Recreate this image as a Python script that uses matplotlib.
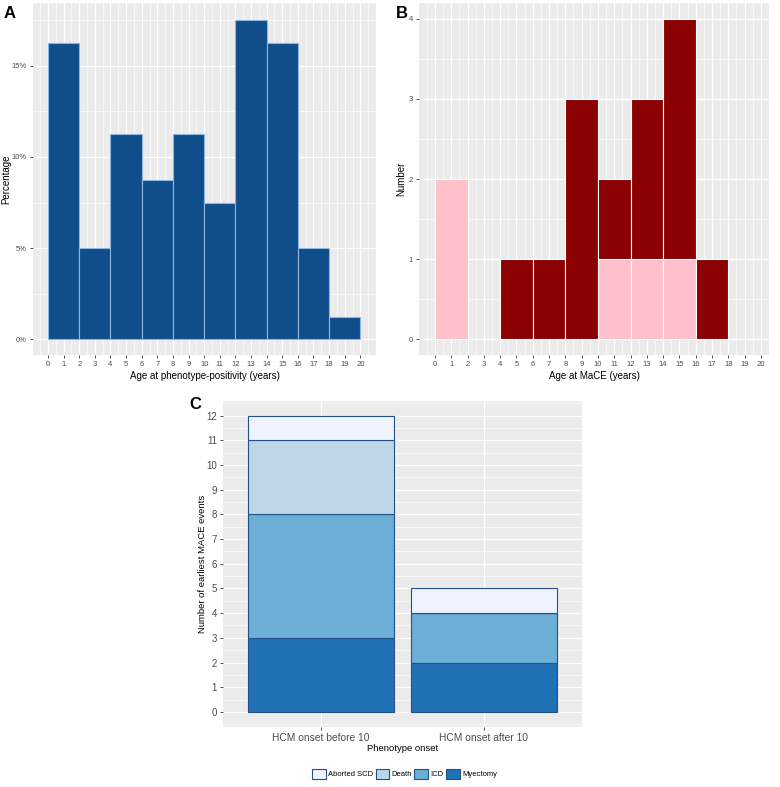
import numpy as np
import matplotlib
matplotlib.use("Agg")
import matplotlib.pyplot as plt
import matplotlib.patches as mpatches
from matplotlib.ticker import MultipleLocator, FuncFormatter

plt.rcParams.update({
    "font.family": ["Liberation Sans", "DejaVu Sans"],
    "axes.edgecolor": "none",
})

# ── Data ──────────────────────────────────────────────────────────────────────
bin_left = [0, 2, 4, 6, 8, 10, 12, 14, 16, 18]
age_ticks = list(range(0, 21))
pct_onset = [16.25, 5, 11.25, 8.75, 11.25, 7.5, 17.5, 16.25, 5, 1.25]

mace_pink = [2, 0, 0, 0, 0, 1, 1, 1, 0, 0]
mace_red = [0, 0, 1, 1, 3, 1, 2, 3, 1, 0]

groups = ["HCM onset before 10", "HCM onset after 10"]
event_types = ["Myectomy", "ICD", "Death", "Aborted SCD"]
event_counts = {
    "Myectomy": [3, 2],
    "ICD": [5, 2],
    "Death": [3, 0],
    "Aborted SCD": [1, 1],
}
event_colors = {
    "Aborted SCD": "#EFF3FF",
    "Death": "#BDD7E7",
    "ICD": "#6BAED6",
    "Myectomy": "#2171B5",
}

BG = "#EBEBEB"
TICK_COL = "#4D4D4D"


def gg_style(ax, tick_size):
    ax.set_facecolor(BG)
    ax.set_axisbelow(True)
    ax.grid(which="major", color="white", linewidth=0.9)
    ax.grid(which="minor", color="white", linewidth=0.45)
    for s in ax.spines.values():
        s.set_visible(False)
    ax.tick_params(which="major", length=2.5, width=0.6, color="#333333",
                   labelsize=tick_size, labelcolor=TICK_COL, pad=2)
    ax.tick_params(which="minor", length=0)


fig = plt.figure(figsize=(7.8, 7.87), dpi=100)

# ── Panel A ───────────────────────────────────────────────────────────────────
axA = fig.add_axes([0.0423, 0.5489, 0.4397, 0.4473])
gg_style(axA, 5.5)
axA.bar(bin_left, pct_onset, width=2, align="edge", color="#104E8B",
        edgecolor="#8FB6E0", linewidth=0.8, zorder=2)
axA.set_xlim(-0.96, 21.0)
axA.set_ylim(-0.86, 18.44)
axA.set_xticks(age_ticks)
axA.xaxis.set_minor_locator(MultipleLocator(0.5))
axA.yaxis.set_major_locator(MultipleLocator(5))
axA.yaxis.set_minor_locator(MultipleLocator(2.5))
axA.yaxis.set_major_formatter(FuncFormatter(lambda v, p: f"{v:.0f}%"))
axA.set_xlabel("Age at phenotype-positivity (years)", fontsize=7, labelpad=2)
axA.set_ylabel("Percentage", fontsize=7)
axA.yaxis.set_label_coords(-0.064, 0.5)
fig.text(0.004, 0.992, "A", fontsize=12, fontweight="bold", va="top")

# ── Panel B ───────────────────────────────────────────────────────────────────
axB = fig.add_axes([0.5372, 0.5489, 0.4487, 0.4473])
gg_style(axB, 5.5)
axB.bar(bin_left, mace_pink, width=2, align="edge", color="#FFC0CB",
        edgecolor="white", linewidth=0.8, zorder=2)
axB.bar(bin_left, mace_red, bottom=mace_pink, width=2, align="edge",
        color="#8B0000", edgecolor="white", linewidth=0.8, zorder=2)
axB.set_xlim(-0.98, 20.5)
axB.set_ylim(-0.2, 4.2)
axB.set_xticks(age_ticks)
axB.xaxis.set_minor_locator(MultipleLocator(0.5))
axB.yaxis.set_major_locator(MultipleLocator(1))
axB.yaxis.set_minor_locator(MultipleLocator(0.5))
axB.set_xlabel("Age at MaCE (years)", fontsize=7, labelpad=2)
axB.set_ylabel("Number", fontsize=7)
axB.yaxis.set_label_coords(-0.037, 0.5)
fig.text(0.508, 0.992, "B", fontsize=12, fontweight="bold", va="top")

# ── Panel C ───────────────────────────────────────────────────────────────────
axC = fig.add_axes([0.2863, 0.0766, 0.4595, 0.4142])
gg_style(axC, 7)
xpos = np.arange(1, len(groups) + 1)
bottom = np.zeros(len(groups))
for ev in event_types:
    vals = np.array(event_counts[ev], dtype=float)
    axC.bar(xpos, vals, bottom=bottom, width=0.9, color=event_colors[ev],
            edgecolor="#24508A", linewidth=0.8, zorder=2)
    bottom += vals
axC.set_xlim(0.4, 2.6)
axC.set_ylim(-0.6, 12.6)
axC.set_xticks(xpos)
axC.set_xticklabels(groups)
axC.tick_params(axis="x", labelsize=7.4)
axC.yaxis.set_major_locator(MultipleLocator(1))
axC.yaxis.set_minor_locator(MultipleLocator(0.5))
axC.set_xlabel("Phenotype onset", fontsize=6.8, labelpad=1)
axC.set_ylabel("Number of earliest MACE events", fontsize=6.8)
axC.yaxis.set_label_coords(-0.045, 0.5)
fig.text(0.243, 0.495, "C", fontsize=12, fontweight="bold", va="top")

handles = [mpatches.Patch(facecolor=event_colors[ev], edgecolor="#24508A",
                          linewidth=0.8, label=ev)
           for ev in ["Aborted SCD", "Death", "ICD", "Myectomy"]]
fig.legend(handles=handles, loc="center", bbox_to_anchor=(0.5186, 0.0165),
           ncol=4, frameon=False, fontsize=5.5, handlelength=1.8,
           handleheight=1.8, handletextpad=0.3, columnspacing=0.3)

fig.savefig("out.png", dpi=100)
